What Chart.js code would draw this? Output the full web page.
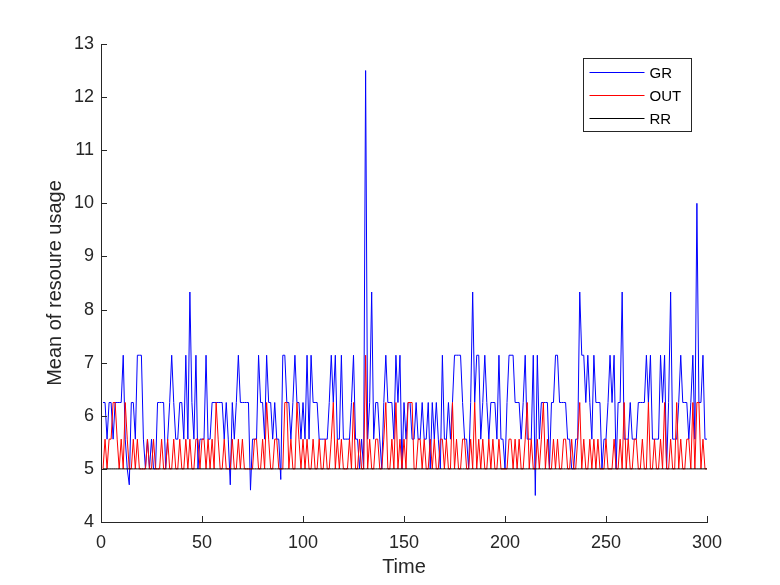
<!DOCTYPE html>
<html>
<head>
<meta charset="utf-8">
<script src="https://cdn.jsdelivr.net/npm/chart.js@4.4.1/dist/chart.umd.min.js"></script>
<style>
  html, body { margin: 0; padding: 0; background: #fff; }
  canvas { display: block; }
</style>
</head>
<body>
<canvas id="chart" width="780" height="585"></canvas>
<script>
// mean resource usage per time step
const grValues = [
  6.25,6.25,5.56,6.25,6.25,5.56,6.25,6.25,6.25,6.25,
  7.14,5.56,5,4.7,6.25,6.25,5.56,7.14,7.14,7.14,
  5.56,5,5.56,5,5.56,5,5,6.25,6.25,6.25,
  6.25,5,5.56,6.25,7.14,6.25,5.56,5.56,6.25,6.25,
  5.56,7.14,5.56,8.33,6.25,5.56,7.14,5,5.56,5.56,
  5.56,7.14,5.56,5.56,6.25,6.25,6.25,6.25,6.25,6.25,
  5.56,6.25,5.56,4.7,6.25,5.56,6.25,7.14,6.25,6.25,
  6.25,6.25,6.25,4.6,5.56,5.56,5.56,7.14,6.25,6.25,
  5.56,7.14,6.25,6.25,5.56,6.25,5.56,5.56,4.8,7.14,
  7.14,6.25,6.25,5.56,6.25,7.14,6.25,6.25,5.56,6.25,
  5.56,7.14,5.56,7.14,6.25,6.25,6.25,5.56,5.56,5.56,
  5.56,5.56,6.25,7.14,6.25,7.14,5.56,5.56,7.14,5.56,
  5.56,5.56,5.56,6.25,7.14,5.56,5.56,5,5.56,5,
  12.5,5.56,6.25,8.33,5.56,6.25,6.25,5.56,5,6.25,
  7.14,6.25,6.25,6.25,5.56,7.14,6.25,7.14,5,6.25,
  5.56,6.25,6.25,5.56,5.56,6.25,5.56,5.56,6.25,5.56,
  5.56,6.25,5,6.25,5.56,6.25,5.56,5,7.14,5.56,
  5.56,6.25,5.56,6.25,7.14,7.14,7.14,7.14,6.25,5.56,
  5.56,5,6.25,8.33,6.25,7.14,7.14,5.56,6.25,7.14,
  6.25,5.56,6.25,6.25,6.25,5.56,7.14,5.56,5.56,5,
  6.25,7.14,7.14,7.14,6.25,6.25,6.25,5.56,6.25,7.14,
  5.56,5.56,5.56,7.14,4.5,7.14,5.56,6.25,6.25,6.25,
  6.25,5,6.25,6.25,7.14,7.14,6.25,6.25,6.25,6.25,
  5.56,5.56,5,5,5.56,5.56,8.33,7.14,7.14,6.25,
  7.14,6.25,5.56,7.14,6.25,6.25,6.25,5,5.56,5.56,
  6.25,7.14,6.25,7.14,5,6.25,6.25,8.33,5.56,5.56,
  5.56,6.25,5.56,5.56,5.56,6.25,6.25,6.25,6.25,7.14,
  6.25,7.14,5.56,5.56,5.56,5.56,7.14,6.25,7.14,5,
  6.25,8.33,5.56,5.56,5.56,6.25,7.14,6.25,6.25,6.25,
  5.56,6.25,7.14,5.56,10,6.25,6.25,7.14,5.56,5.56
];

const outValues = [
  5,5.56,5,5.56,5.56,6.25,6.25,5.56,5,5.56,
  5,6.25,5.56,5,5,5.56,5,5.56,5,5,
  5,5,5.56,5,5,5.56,5,5,5,5.56,
  5,5,5.56,5,5,5.56,5,5,5.56,5,
  5,5.56,5,5.56,5,5,5.56,5.56,5,5.56,
  5.56,5,5.56,5,5.56,5,6.25,5.56,5,5,
  5.56,5,5,5,5.56,5,5,5.56,5,5.56,
  5,5,5,5,5,5.56,5.56,5,5,5.56,
  5,6.25,5.56,5,5,5.56,5.56,5,5,5,
  6.25,6.25,5,5.56,5,5,6.25,5.56,5,5.56,
  5,5.56,5,5,5.56,5,5,5.56,5,5,
  5.56,5,5,5.56,6.25,5,5.56,5,5.56,5,
  5,5,5.56,5,6.25,5,5,5.56,5,5,
  7.14,5,5.56,5,5,5.56,5.56,5,5,5.56,
  6.25,5,5,5.56,5,6.25,5,5.56,5,5.56,
  5,6.25,6.25,6.25,5,5,5.56,5.56,5,5.56,
  5,5,5.56,5,5.56,5,5,5.56,5.56,5,
  5.56,5,5,6.25,5,5.56,5,5,5.56,5.56,
  5,5,5.56,5,6.25,5,5.56,5,5.56,5,
  5,5.56,5,5.56,5,5,5.56,5,5,5,
  5,5.56,5.56,5,5.56,5,5.56,5,5,5.56,
  6.25,5,5.56,5,5,5.56,5,5.56,6.25,5,
  5.56,5,5,5.56,5,5.56,5,5,5.56,5.56,
  5,5,5.56,5,5,5.56,6.25,5,5.56,5,
  5,5.56,5,5.56,5,5.56,5,5,5,5.56,
  5,5,5,5.56,5,5,5.56,5,6.25,5,
  5.56,5,5,5.56,5.56,5,5,5.56,5,5,
  6.25,5,5,5.56,5,5,5.56,5,6.25,5,
  5,5.56,5,5,6.25,5,5.56,5,5,5.56,
  5.56,5,6.25,5,6.25,6.25,5,5.56,5,5
];

const rrValues = [
  5,5,5,5,5,5,5,5,5,5, 5,5,5,5,5,5,5,5,5,5, 5,5,5,5,5,5,5,5,5,5,
  5,5,5,5,5,5,5,5,5,5, 5,5,5,5,5,5,5,5,5,5, 5,5,5,5,5,5,5,5,5,5,
  5,5,5,5,5,5,5,5,5,5, 5,5,5,5,5,5,5,5,5,5, 5,5,5,5,5,5,5,5,5,5,
  5,5,5,5,5,5,5,5,5,5, 5,5,5,5,5,5,5,5,5,5, 5,5,5,5,5,5,5,5,5,5,
  5,5,5,5,5,5,5,5,5,5, 5,5,5,5,5,5,5,5,5,5, 5,5,5,5,5,5,5,5,5,5,
  5,5,5,5,5,5,5,5,5,5, 5,5,5,5,5,5,5,5,5,5, 5,5,5,5,5,5,5,5,5,5,
  5,5,5,5,5,5,5,5,5,5, 5,5,5,5,5,5,5,5,5,5, 5,5,5,5,5,5,5,5,5,5,
  5,5,5,5,5,5,5,5,5,5, 5,5,5,5,5,5,5,5,5,5, 5,5,5,5,5,5,5,5,5,5,
  5,5,5,5,5,5,5,5,5,5, 5,5,5,5,5,5,5,5,5,5, 5,5,5,5,5,5,5,5,5,5,
  5,5,5,5,5,5,5,5,5,5, 5,5,5,5,5,5,5,5,5,5, 5,5,5,5,5,5,5,5,5,5
];

const xTicks = [0, 50, 100, 150, 200, 250, 300];
const yTicks = [4, 5, 6, 7, 8, 9, 10, 11, 12, 13];

// time steps 1..N
const timeSteps = grValues.map((_, i) => i + 1);

const axisColor = "#262626";
const fontFamily = "'Liberation Sans', Arial, Helvetica, sans-serif";

const toPoints = (vals) => vals.map((v, i) => ({ x: timeSteps[i], y: v }));

// matlab style ticks pointing into the axes
const innerTicks = {
    id: "innerTicks",
    afterDatasetsDraw(chart) {
        const { ctx, chartArea, scales } = chart;
        ctx.save();
        ctx.strokeStyle = axisColor;
        ctx.lineWidth = 1;
        ctx.beginPath();
        xTicks.forEach((t) => {
            const px = Math.round(scales.x.getPixelForValue(t)) + 0.5;
            ctx.moveTo(px, chartArea.bottom);
            ctx.lineTo(px, chartArea.bottom - 6);
        });
        yTicks.forEach((t) => {
            const py = Math.round(scales.y.getPixelForValue(t)) + 0.5;
            ctx.moveTo(chartArea.left, py);
            ctx.lineTo(chartArea.left + 6, py);
        });
        ctx.stroke();
        ctx.restore();
    },
};

// legend box inside the plot, top right
const boxLegend = {
    id: "boxLegend",
    afterDraw(chart) {
        const { ctx } = chart;
        const x0 = 583.5, y0 = 58.5, w = 108, h = 73;
        ctx.save();
        ctx.fillStyle = "#fff";
        ctx.fillRect(x0, y0, w, h);
        ctx.strokeStyle = axisColor;
        ctx.lineWidth = 1;
        ctx.strokeRect(x0, y0, w, h);
        ctx.font = "15px " + fontFamily;
        ctx.textBaseline = "middle";
        chart.data.datasets.forEach((ds, i) => {
            const y = Math.round(y0 + 13 + i * 23) + 0.5;
            ctx.beginPath();
            ctx.strokeStyle = ds.borderColor;
            ctx.lineWidth = 1;
            ctx.moveTo(x0 + 6, y);
            ctx.lineTo(x0 + 61, y);
            ctx.stroke();
            ctx.fillStyle = "#000";
            ctx.fillText(ds.label, x0 + 66, y + 1);
        });
        ctx.restore();
    },
};

new Chart(document.getElementById("chart"), {
    type: "line",
    data: {
        datasets: [
            { label: "GR", data: toPoints(grValues), borderColor: "#0000ff", order: 3 },
            { label: "OUT", data: toPoints(outValues), borderColor: "#ff0000", order: 2 },
            { label: "RR", data: toPoints(rrValues), borderColor: "#000000", order: 1 },
        ],
    },
    options: {
        responsive: false,
        animation: false,
        elements: {
            line: { borderWidth: 1, tension: 0, fill: false },
            point: { radius: 0 },
        },
        layout: { padding: { left: 0, top: 44, right: 73, bottom: 0 } },
        plugins: {
            legend: { display: false },
            tooltip: { enabled: false },
        },
        scales: {
            x: {
                type: "linear",
                min: 0,
                max: 300,
                afterBuildTicks: (scale) => { scale.ticks = xTicks.map((v) => ({ value: v })); },
                afterFit: (scale) => { scale.height = 63; },
                grid: { drawOnChartArea: false, drawTicks: false },
                border: { color: axisColor, width: 1 },
                ticks: {
                    padding: 10,
                    color: axisColor,
                    font: { family: fontFamily, size: 18 },
                    maxRotation: 0,
                },
                title: {
                    display: true,
                    text: "Time",
                    color: axisColor,
                    font: { family: fontFamily, size: 20 },
                    padding: { top: 0, bottom: 6 },
                },
            },
            y: {
                type: "linear",
                min: 4,
                max: 13,
                afterBuildTicks: (scale) => { scale.ticks = yTicks.map((v) => ({ value: v })); },
                afterFit: (scale) => { scale.width = 101; },
                grid: { drawOnChartArea: false, drawTicks: false },
                border: { color: axisColor, width: 1 },
                ticks: {
                    padding: 7,
                    color: axisColor,
                    font: { family: fontFamily, size: 18 },
                },
                title: {
                    display: true,
                    text: "Mean of resoure usage",
                    color: axisColor,
                    font: { family: fontFamily, size: 20 },
                    padding: { top: 43, bottom: 0 },
                },
            },
        },
    },
    plugins: [innerTicks, boxLegend],
});
</script>
</body>
</html>
